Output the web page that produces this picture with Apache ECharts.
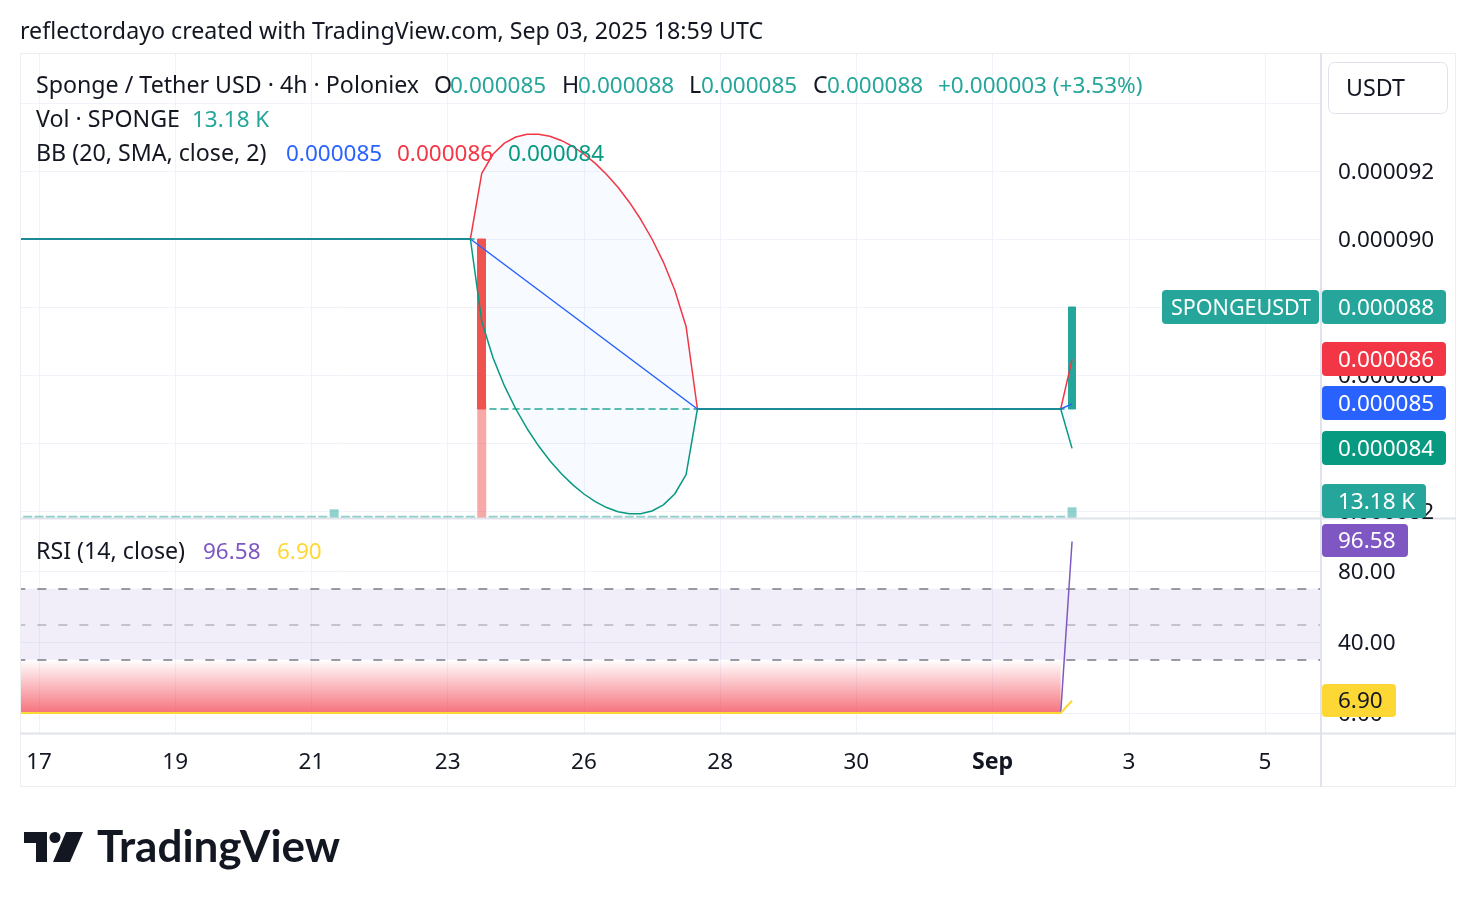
<!DOCTYPE html>
<html><head><meta charset="utf-8">
<script src="https://cdn.jsdelivr.net/npm/echarts@6/dist/echarts.min.js"></script>
<style>html,body{margin:0;padding:0;background:#fff}#c{width:1476px;height:908px}</style>
</head><body><div id="c"></div>
<script>
// ---------- DATA (4h bars; bar index 0 = Aug 17 00:00) ----------
const firstBar = -2;
const lastCategoryBar = 113;
const tickBars = [0, 12, 24, 36, 48, 60, 72, 84, 96, 108];
const tickLabels = ['17', '19', '21', '23', '26', '28', '30', 'Sep', '3', '5'];
const priceTicks = [0.000082, 0.000084, 0.000086, 0.000088, 0.00009, 0.000092, 0.000094];
const rsiTicks = [0, 40, 80];

const opens = [
0.00009,0.00009,0.00009,0.00009,0.00009,0.00009,0.00009,0.00009,0.00009,0.00009,
0.00009,0.00009,0.00009,0.00009,0.00009,0.00009,0.00009,0.00009,0.00009,0.00009,
0.00009,0.00009,0.00009,0.00009,0.00009,0.00009,0.00009,0.00009,0.00009,0.00009,
0.00009,0.00009,0.00009,0.00009,0.00009,0.00009,0.00009,0.00009,0.00009,0.00009,
0.00009,
0.00009,
0.000085,0.000085,0.000085,0.000085,0.000085,0.000085,0.000085,0.000085,0.000085,0.000085,
0.000085,0.000085,0.000085,0.000085,0.000085,0.000085,0.000085,0.000085,0.000085,0.000085,
0.000085,0.000085,0.000085,0.000085,0.000085,0.000085,0.000085,0.000085,0.000085,0.000085,
0.000085,0.000085,0.000085,0.000085,0.000085,0.000085,0.000085,0.000085,0.000085,0.000085,
0.000085,0.000085,0.000085,0.000085,0.000085,0.000085,0.000085,0.000085,0.000085,0.000085,
0.000085,
0.000085];
const closes = [
0.00009,0.00009,0.00009,0.00009,0.00009,0.00009,0.00009,0.00009,0.00009,0.00009,
0.00009,0.00009,0.00009,0.00009,0.00009,0.00009,0.00009,0.00009,0.00009,0.00009,
0.00009,0.00009,0.00009,0.00009,0.00009,0.00009,0.00009,0.00009,0.00009,0.00009,
0.00009,0.00009,0.00009,0.00009,0.00009,0.00009,0.00009,0.00009,0.00009,0.00009,
0.00009,
0.000085,
0.000085,0.000085,0.000085,0.000085,0.000085,0.000085,0.000085,0.000085,0.000085,0.000085,
0.000085,0.000085,0.000085,0.000085,0.000085,0.000085,0.000085,0.000085,0.000085,0.000085,
0.000085,0.000085,0.000085,0.000085,0.000085,0.000085,0.000085,0.000085,0.000085,0.000085,
0.000085,0.000085,0.000085,0.000085,0.000085,0.000085,0.000085,0.000085,0.000085,0.000085,
0.000085,0.000085,0.000085,0.000085,0.000085,0.000085,0.000085,0.000085,0.000085,0.000085,
0.000085,
0.000088];
const highs = [
0.00009,0.00009,0.00009,0.00009,0.00009,0.00009,0.00009,0.00009,0.00009,0.00009,
0.00009,0.00009,0.00009,0.00009,0.00009,0.00009,0.00009,0.00009,0.00009,0.00009,
0.00009,0.00009,0.00009,0.00009,0.00009,0.00009,0.00009,0.00009,0.00009,0.00009,
0.00009,0.00009,0.00009,0.00009,0.00009,0.00009,0.00009,0.00009,0.00009,0.00009,
0.00009,
0.00009,
0.000085,0.000085,0.000085,0.000085,0.000085,0.000085,0.000085,0.000085,0.000085,0.000085,
0.000085,0.000085,0.000085,0.000085,0.000085,0.000085,0.000085,0.000085,0.000085,0.000085,
0.000085,0.000085,0.000085,0.000085,0.000085,0.000085,0.000085,0.000085,0.000085,0.000085,
0.000085,0.000085,0.000085,0.000085,0.000085,0.000085,0.000085,0.000085,0.000085,0.000085,
0.000085,0.000085,0.000085,0.000085,0.000085,0.000085,0.000085,0.000085,0.000085,0.000085,
0.000085,
0.000088];
const lows = [
0.00009,0.00009,0.00009,0.00009,0.00009,0.00009,0.00009,0.00009,0.00009,0.00009,
0.00009,0.00009,0.00009,0.00009,0.00009,0.00009,0.00009,0.00009,0.00009,0.00009,
0.00009,0.00009,0.00009,0.00009,0.00009,0.00009,0.00009,0.00009,0.00009,0.00009,
0.00009,0.00009,0.00009,0.00009,0.00009,0.00009,0.00009,0.00009,0.00009,0.00009,
0.00009,
0.000085,
0.000085,0.000085,0.000085,0.000085,0.000085,0.000085,0.000085,0.000085,0.000085,0.000085,
0.000085,0.000085,0.000085,0.000085,0.000085,0.000085,0.000085,0.000085,0.000085,0.000085,
0.000085,0.000085,0.000085,0.000085,0.000085,0.000085,0.000085,0.000085,0.000085,0.000085,
0.000085,0.000085,0.000085,0.000085,0.000085,0.000085,0.000085,0.000085,0.000085,0.000085,
0.000085,0.000085,0.000085,0.000085,0.000085,0.000085,0.000085,0.000085,0.000085,0.000085,
0.000085,
0.000085];
const volumes = [
2800,2800,2800,2800,2800,2800,2800,2800,2800,2800,
2800,2800,2800,2800,2800,2800,2800,2800,2800,2800,
2800,2800,2800,2800,2800,2800,2800,2800,10700,2800,
2800,2800,2800,2800,2800,2800,2800,2800,2800,2800,
2800,141700,
2800,2800,2800,2800,2800,2800,2800,2800,2800,2800,
2800,2800,2800,2800,2800,2800,2800,2800,2800,2800,
2800,2800,2800,2800,2800,2800,2800,2800,2800,2800,
2800,2800,2800,2800,2800,2800,2800,2800,2800,2800,
2800,2800,2800,2800,2800,2800,2800,2800,2800,2800,
2800,
13180];
const bbUpper = [
0.00009,0.00009,0.00009,0.00009,0.00009,0.00009,0.00009,0.00009,0.00009,0.00009,
0.00009,0.00009,0.00009,0.00009,0.00009,0.00009,0.00009,0.00009,0.00009,0.00009,
0.00009,0.00009,0.00009,0.00009,0.00009,0.00009,0.00009,0.00009,0.00009,0.00009,
0.00009,0.00009,0.00009,0.00009,0.00009,0.00009,0.00009,0.00009,0.00009,0.00009,
0.00009,
0.000091929,0.0000925,0.000092821,0.000093,0.00009308,0.000093083,0.00009302,0.000092899,0.000092725,0.0000925,
0.000092225,0.000091899,0.00009152,0.000091083,0.00009058,0.00009,0.000089321,0.0000885,0.000087429,
0.000085,0.000085,0.000085,0.000085,0.000085,0.000085,0.000085,0.000085,0.000085,0.000085,
0.000085,0.000085,0.000085,0.000085,0.000085,0.000085,0.000085,0.000085,0.000085,0.000085,
0.000085,0.000085,0.000085,0.000085,0.000085,0.000085,0.000085,0.000085,0.000085,0.000085,
0.000085,0.000085,0.000085,
0.000086458];
const bbBasis = [
0.00009,0.00009,0.00009,0.00009,0.00009,0.00009,0.00009,0.00009,0.00009,0.00009,
0.00009,0.00009,0.00009,0.00009,0.00009,0.00009,0.00009,0.00009,0.00009,0.00009,
0.00009,0.00009,0.00009,0.00009,0.00009,0.00009,0.00009,0.00009,0.00009,0.00009,
0.00009,0.00009,0.00009,0.00009,0.00009,0.00009,0.00009,0.00009,0.00009,0.00009,
0.00009,
0.00008975,0.0000895,0.00008925,0.000089,0.00008875,0.0000885,0.00008825,0.000088,0.00008775,0.0000875,
0.00008725,0.000087,0.00008675,0.0000865,0.00008625,0.000086,0.00008575,0.0000855,0.00008525,
0.000085,0.000085,0.000085,0.000085,0.000085,0.000085,0.000085,0.000085,0.000085,0.000085,
0.000085,0.000085,0.000085,0.000085,0.000085,0.000085,0.000085,0.000085,0.000085,0.000085,
0.000085,0.000085,0.000085,0.000085,0.000085,0.000085,0.000085,0.000085,0.000085,0.000085,
0.000085,0.000085,0.000085,
0.00008515];
const bbLower = [
0.00009,0.00009,0.00009,0.00009,0.00009,0.00009,0.00009,0.00009,0.00009,0.00009,
0.00009,0.00009,0.00009,0.00009,0.00009,0.00009,0.00009,0.00009,0.00009,0.00009,
0.00009,0.00009,0.00009,0.00009,0.00009,0.00009,0.00009,0.00009,0.00009,0.00009,
0.00009,0.00009,0.00009,0.00009,0.00009,0.00009,0.00009,0.00009,0.00009,0.00009,
0.00009,
0.000087571,0.0000865,0.000085679,0.000085,0.00008442,0.000083917,0.00008348,0.000083101,0.000082775,0.0000825,
0.000082275,0.000082101,0.00008198,0.000081917,0.00008192,0.000082,0.000082179,0.0000825,0.000083071,
0.000085,0.000085,0.000085,0.000085,0.000085,0.000085,0.000085,0.000085,0.000085,0.000085,
0.000085,0.000085,0.000085,0.000085,0.000085,0.000085,0.000085,0.000085,0.000085,0.000085,
0.000085,0.000085,0.000085,0.000085,0.000085,0.000085,0.000085,0.000085,0.000085,0.000085,
0.000085,0.000085,0.000085,
0.000083842];
const rsi = [
0,0,0,0,0,0,0,0,0,0, 0,0,0,0,0,0,0,0,0,0, 0,0,0,0,0,0,0,0,0,0,
0,0,0,0,0,0,0,0,0,0, 0,0,0,0,0,0,0,0,0,0, 0,0,0,0,0,0,0,0,0,0,
0,0,0,0,0,0,0,0,0,0, 0,0,0,0,0,0,0,0,0,0, 0,0,0,0,0,0,0,0,0,0,
0,0,0,
96.58];
const rsiMA = [
0,0,0,0,0,0,0,0,0,0, 0,0,0,0,0,0,0,0,0,0, 0,0,0,0,0,0,0,0,0,0,
0,0,0,0,0,0,0,0,0,0, 0,0,0,0,0,0,0,0,0,0, 0,0,0,0,0,0,0,0,0,0,
0,0,0,0,0,0,0,0,0,0, 0,0,0,0,0,0,0,0,0,0, 0,0,0,0,0,0,0,0,0,0,
0,0,0,
6.90];
const rsiLevels = { upper: 70, middle: 50, lower: 30 };

// ---------- STYLE ----------
const FONT = '"Noto Sans", Roboto, sans-serif';
const FS = 23.2;      // words
const FN = 22.5;      // numbers
const TXT = '#131722';
const GRIDC = '#f0f3fa';
const SEP = '#e0e3eb';
const UP = '#26a69a', DOWN = '#ef5350';
const DY = 1.5;       // baseline nudge

// ---------- BUILD ----------
const cats = [];
for (let b = firstBar; b <= lastCategoryBar; b++) cats.push(String(b));
const tickIdx = new Set(tickBars.map(b => b - firstBar));
const isTick = (i) => tickIdx.has(i);

const candleData = opens.map((o, i) => [o, closes[i], lows[i], highs[i]]);
const volData = volumes.map((v, i) => ({ value: v, itemStyle: { color: closes[i] >= opens[i] ? 'rgba(38,166,154,0.5)' : 'rgba(239,83,80,0.5)' } }));
const bbSpread = bbUpper.map((u, i) => u - bbLower[i]);
const oversold = rsi.map(v => v < rsiLevels.lower ? rsiLevels.lower : null);

const GRID_L = 16.3, GRID_R = 154.2;
const PRICE_MIN = 0.00008179412, PRICE_MAX = 0.00009547059;

const chart = echarts.init(document.getElementById('c'), null, { renderer: 'canvas', width: 1476, height: 908 });

function T(x, y, text, fill, o = {}) {
  return { type: 'text', z: o.z || 200, silent: true, x, y: y + (o.noNudge ? 0 : DY),
    style: { text, fill, fontFamily: o.family || FONT, fontSize: o.size || FS, fontWeight: o.weight || 'normal',
      align: o.align || 'left', verticalAlign: 'middle' } };
}
function badge(x, y, w, h, bg, text, fg, tx, size) {
  return [
    { type: 'rect', z: 150, silent: true, shape: { x, y, width: w, height: h, r: 4 }, style: { fill: bg } },
    T(tx != null ? tx : x + 16, y + h / 2, text, fg || '#ffffff', { size: size || FN })
  ];
}

const graphics = [
  { type: 'rect', z: 120, silent: true, shape: { x: 0, y: 40, width: 20, height: 760 }, style: { fill: '#fff' } },
  { type: 'rect', z: 121, silent: true, shape: { x: 20.5, y: 53.5, width: 1435, height: 733 }, style: { fill: 'none', stroke: '#eceef2', lineWidth: 1 } },
  { type: 'line', z: 121, silent: true, shape: { x1: 1321, y1: 53, x2: 1321, y2: 787 }, style: { stroke: SEP, lineWidth: 2 } },
  { type: 'line', z: 121, silent: true, shape: { x1: 20, y1: 518.5, x2: 1456, y2: 518.5 }, style: { stroke: SEP, lineWidth: 2 } },
  { type: 'line', z: 121, silent: true, shape: { x1: 20, y1: 733.5, x2: 1456, y2: 733.5 }, style: { stroke: SEP, lineWidth: 2 } },
  T(20, 31, 'reflectordayo created with TradingView.com, Sep 03, 2025 18:59 UTC', TXT),
  T(36, 85, 'Sponge / Tether USD · 4h · Poloniex', TXT),
  T(434, 85, 'O', TXT), T(450, 85, '0.000085', UP, { size: FN }),
  T(562, 85, 'H', TXT), T(578, 85, '0.000088', UP, { size: FN }),
  T(689, 85, 'L', TXT), T(701, 85, '0.000085', UP, { size: FN }),
  T(813, 85, 'C', TXT), T(827, 85, '0.000088', UP, { size: FN }),
  T(938, 85, '+0.000003 (+3.53%)', UP, { size: FN }),
  T(36, 119, 'Vol · SPONGE', TXT), T(192, 119, '13.18 K', UP, { size: FN }),
  T(36, 153, 'BB (20, SMA, close, 2)', TXT),
  T(286, 153, '0.000085', '#2962ff', { size: FN }), T(397, 153, '0.000086', '#f23645', { size: FN }), T(508, 153, '0.000084', '#089981', { size: FN }),
  T(36, 551, 'RSI (14, close)', TXT), T(203, 551, '96.58', '#7e57c2', { size: FN }), T(277, 551, '6.90', '#fdd835', { size: FN }),
  { type: 'rect', z: 150, silent: true, shape: { x: 1328.5, y: 62.5, width: 119, height: 51, r: 6 }, style: { fill: '#fff', stroke: '#e0e3eb', lineWidth: 1 } },
  T(1346, 88, 'USDT', TXT),
  ...badge(1162, 290, 157, 34, UP, 'SPONGEUSDT', '#fff', 1171, 21.5),
  ...badge(1322, 290, 124, 34, UP, '0.000088'),
  ...badge(1322, 342, 124, 34, '#f23645', '0.000086'),
  ...badge(1322, 386, 124, 34, '#2962ff', '0.000085'),
  ...badge(1322, 431, 124, 34, '#089981', '0.000084'),
  ...badge(1322, 484, 104, 34, UP, '13.18 K'),
  ...badge(1322, 524, 86, 33, '#7e57c2', '96.58'),
  ...badge(1322, 684, 74, 33, '#fdd835', '6.90', TXT),
  // TradingView logo
  { type: 'polygon', z: 150, silent: true, shape: { points: [[24, 832], [47, 832], [47, 862], [36, 862], [36, 843], [24, 843]] }, style: { fill: '#131722' } },
  { type: 'circle', z: 150, silent: true, shape: { cx: 55, cy: 837.5, r: 5.5 }, style: { fill: '#131722' } },
  { type: 'polygon', z: 150, silent: true, shape: { points: [[66, 832], [83, 832], [70, 862], [53, 862]] }, style: { fill: '#131722' } },
  T(97, 848, 'TradingView', '#131722', { family: 'Lato, sans-serif', size: 44, weight: 'bold', noNudge: true })
];

const option = {
  animation: false,
  backgroundColor: '#ffffff',
  textStyle: { fontFamily: FONT },
  grid: [
    { left: GRID_L, right: GRID_R, top: 53, bottom: 908 - 518, outerBoundsMode: 'none', containLabel: false },
    { left: GRID_L, right: GRID_R, top: 518, bottom: 908 - 733, outerBoundsMode: 'none', containLabel: false }
  ],
  xAxis: [
    { type: 'category', gridIndex: 0, data: cats, boundaryGap: false,
      axisLine: { show: false }, axisTick: { show: false }, axisLabel: { show: false },
      splitLine: { show: true, interval: (i) => isTick(i), lineStyle: { color: GRIDC, width: 1 } } },
    { type: 'category', gridIndex: 1, data: cats, boundaryGap: false,
      axisLine: { show: false }, axisTick: { show: false },
      axisLabel: { show: true, interval: (i) => isTick(i), margin: 15, padding: [3, 0, 0, 0], color: TXT, fontSize: FN, fontFamily: FONT,
        formatter: (v) => { const k = tickBars.indexOf(Number(v)); if (k < 0) return ''; const s = tickLabels[k]; return s === 'Sep' ? '{s|Sep}' : s; },
        rich: { s: { fontWeight: 'bold', fontSize: FS, fontFamily: FONT, color: TXT } } },
      splitLine: { show: true, interval: (i) => isTick(i), lineStyle: { color: GRIDC, width: 1 } } }
  ],
  yAxis: [
    { type: 'value', gridIndex: 0, position: 'right', min: PRICE_MIN, max: PRICE_MAX,
      minInterval: 0.000002, maxInterval: 0.000002,
      axisLine: { show: false }, axisTick: { show: false }, axisLabel: { show: false },
      splitLine: { show: true, lineStyle: { color: GRIDC, width: 1 } } },
    { type: 'value', gridIndex: 0, min: 0, max: 573000, show: false, splitLine: { show: false } },
    { type: 'value', gridIndex: 1, position: 'right', min: -11.268, max: 109.86, minInterval: 40, maxInterval: 40,
      axisLine: { show: false }, axisTick: { show: false }, axisLabel: { show: false },
      splitLine: { show: true, lineStyle: { color: GRIDC, width: 1 } } }
  ],
  series: [
    { name: 'Volume', type: 'bar', xAxisIndex: 0, yAxisIndex: 1, data: volData, barWidth: 9, z: 1, silent: true },
    { name: 'Price', type: 'candlestick', xAxisIndex: 0, yAxisIndex: 0, data: candleData, barWidth: 8, z: 2, silent: true,
      itemStyle: { color: UP, color0: DOWN, borderColor: UP, borderColor0: DOWN, borderWidth: 1 } },
    { name: 'bbBase', type: 'line', xAxisIndex: 0, yAxisIndex: 0, data: bbLower, stack: 'bb', symbol: 'none', silent: true,
      lineStyle: { opacity: 0 }, z: 1 },
    { name: 'bbFill', type: 'line', xAxisIndex: 0, yAxisIndex: 0, data: bbSpread, stack: 'bb', symbol: 'none', silent: true,
      lineStyle: { opacity: 0 }, areaStyle: { color: 'rgba(33,150,243,0.05)' }, z: 1 },
    { name: 'BB Upper', type: 'line', xAxisIndex: 0, yAxisIndex: 0, data: bbUpper, symbol: 'none', silent: true,
      lineStyle: { color: '#f23645', width: 1.5 }, z: 3 },
    { name: 'BB Basis', type: 'line', xAxisIndex: 0, yAxisIndex: 0, data: bbBasis, symbol: 'none', silent: true,
      lineStyle: { color: '#2962ff', width: 1.5 }, z: 3 },
    { name: 'BB Lower', type: 'line', xAxisIndex: 0, yAxisIndex: 0, data: bbLower, symbol: 'none', silent: true,
      lineStyle: { color: '#089981', width: 1.5 }, z: 3 },
    { name: 'Oversold', type: 'line', xAxisIndex: 1, yAxisIndex: 2, data: oversold, symbol: 'none', silent: true,
      lineStyle: { opacity: 0 }, z: 2,
      areaStyle: { color: { type: 'linear', x: 0, y: 0, x2: 0, y2: 1, colorStops: [
        { offset: 0, color: 'rgba(242,54,69,0)' }, { offset: 1, color: 'rgba(242,54,69,1)' }] } },
      markArea: { silent: true, itemStyle: { color: 'rgba(126,87,194,0.1)' },
        data: [[{ yAxis: rsiLevels.lower }, { yAxis: rsiLevels.upper }]] },
      markLine: { silent: true, symbol: 'none', label: { show: false },
        data: [
          { yAxis: rsiLevels.upper, lineStyle: { color: '#787b86', type: [9, 12], width: 1.5 } },
          { yAxis: rsiLevels.middle, lineStyle: { color: 'rgba(120,123,134,0.5)', type: [9, 12], width: 1.5 } },
          { yAxis: rsiLevels.lower, lineStyle: { color: '#787b86', type: [9, 12], width: 1.5 } }
        ] } },
    { name: 'RSI', type: 'line', xAxisIndex: 1, yAxisIndex: 2, data: rsi, symbol: 'none', silent: true,
      lineStyle: { color: '#7e57c2', width: 1.5 }, z: 3 },
    { name: 'RSI MA', type: 'line', xAxisIndex: 1, yAxisIndex: 2, data: rsiMA, symbol: 'none', silent: true,
      lineStyle: { color: '#fdd835', width: 2 }, z: 4 }
  ],
  graphic: { elements: graphics }
};
chart.setOption(option);

// axis tick labels placed at positions given by the library's own scales
const axisLabelEls = [];
priceTicks.forEach(v => {
  const y = chart.convertToPixel({ yAxisIndex: 0 }, v);
  axisLabelEls.push(T(1338, y, v.toFixed(6), TXT, { size: FN, z: 140 }));
});
rsiTicks.forEach(v => {
  const y = chart.convertToPixel({ yAxisIndex: 2 }, v);
  axisLabelEls.push(T(1338, y, v.toFixed(2), TXT, { size: FN, z: 140 }));
});
chart.setOption({ graphic: { elements: graphics.concat(axisLabelEls) } });
</script>
</body></html>
